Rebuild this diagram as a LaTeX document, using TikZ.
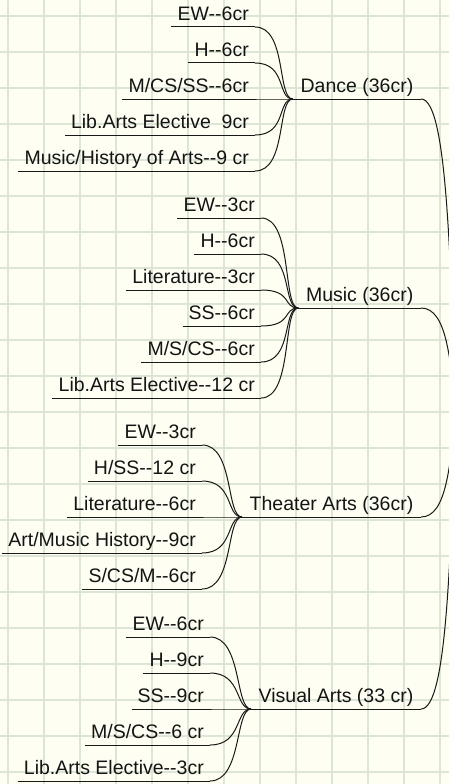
\documentclass[tikz,border=0pt]{standalone}
\usepackage{fontspec}
\setmainfont{Liberation Sans}
\newcommand{\twohy}{-\kern0pt-}
\definecolor{bgc}{RGB}{254,254,242}
\definecolor{gridc}{RGB}{221,229,214}
\definecolor{linec}{RGB}{25,25,25}
\definecolor{textc}{RGB}{20,20,20}
\begin{document}
\begin{tikzpicture}[x=1pt,y=-1pt,
  conn/.style={draw=linec, line width=1pt},
  txt/.style={font=\fontsize{19.5pt}{22pt}\selectfont, text=textc, inner ysep=6pt,
    text depth=0pt, anchor=south east,
    append after command={(\tikzlastnode.south west) edge[conn] (\tikzlastnode.south east)}},
  leaf/.style={txt, inner xsep=6pt},
  topic/.style={txt, inner xsep=7.5pt},
  gridline/.style={draw=gridc, line width=1.8pt}
]
\fill[bgc] (0,0) rectangle (449,784);
\useasboundingbox (0,0) rectangle (449,784);
\foreach \i in {0,...,12} \draw[gridline] ({8+36*\i},0) -- ({8+36*\i},784);
\foreach \j in {0,...,21} \draw[gridline] (0,{16+36*\j}) -- (449,{16+36*\j});

\coordinate (root) at (456,410);

% Dance
\node[topic] (dance) at (421,99) {Dance (36cr)};
\node[leaf] (d1) at (255,27) {EW\twohy6cr};
\node[leaf] (d2) at (255,63) {H\twohy6cr};
\node[leaf] (d3) at (255,99) {M/CS/SS\twohy6cr};
\node[leaf] (d4) at (255,135) {Lib.Arts Elective\ \ 9cr};
\node[leaf] (d5) at (255,171) {Music/History of Arts\twohy9 cr\ };

% Music
\node[topic] (music) at (421,308) {Music (36cr)};
\node[leaf] (m1) at (261,218) {EW\twohy3cr};
\node[leaf] (m2) at (261,254) {H\twohy6cr};
\node[leaf] (m3) at (261,290) {Literature\twohy3cr};
\node[leaf] (m4) at (261,326) {SS\twohy6cr};
\node[leaf] (m5) at (261,362) {M/S/CS\twohy6cr};
\node[leaf] (m6) at (261,398) {Lib.Arts Elective\twohy12 cr};

% Theater
\node[topic] (theater) at (421,517) {Theater Arts (36cr)};
\node[leaf] (t1) at (202,445) {EW\twohy3cr};
\node[leaf] (t2) at (202,481) {H/SS\twohy12 cr};
\node[leaf] (t3) at (202,517) {Literature\twohy6cr};
\node[leaf] (t4) at (202,553) {Art/Music History\twohy9cr};
\node[leaf] (t5) at (202,589) {S/CS/M\twohy6cr};

% Visual
\node[topic] (visual) at (421,709) {Visual Arts (33 cr)};
\node[leaf] (v1) at (210,637) {EW\twohy6cr};
\node[leaf] (v2) at (210,673) {H\twohy9cr};
\node[leaf] (v3) at (210,709) {SS\twohy9cr};
\node[leaf] (v4) at (210,745) {M/S/CS\twohy6 cr};
\node[leaf] (v5) at (210,781) {Lib.Arts Elective\twohy3cr};

% child connectors
\foreach \c in {d1,d2,d3,d4,d5}
  \draw[conn] (\c.south east) .. controls +(32,0) and +(-16,0) .. (dance.south west);
\foreach \c in {m1,m2,m3,m4,m5,m6}
  \draw[conn] (\c.south east) .. controls +(32,0) and +(-16,0) .. (music.south west);
\foreach \c in {t1,t2,t3,t4,t5}
  \draw[conn] (\c.south east) .. controls +(32,0) and +(-16,0) .. (theater.south west);
\foreach \c in {v1,v2,v3,v4,v5}
  \draw[conn] (\c.south east) .. controls +(32,0) and +(-16,0) .. (visual.south west);

% root connectors
\draw[conn] (dance.south east) .. controls +(26,0) and +(-6,-155) .. (root);
\draw[conn] (music.south east) .. controls +(26,0) and +(-6,-50) .. (root);
\draw[conn] (theater.south east) .. controls +(26,0) and +(-6,54) .. (root);
\draw[conn] (visual.south east) .. controls +(26,0) and +(-6,150) .. (root);
\end{tikzpicture}
\end{document}
